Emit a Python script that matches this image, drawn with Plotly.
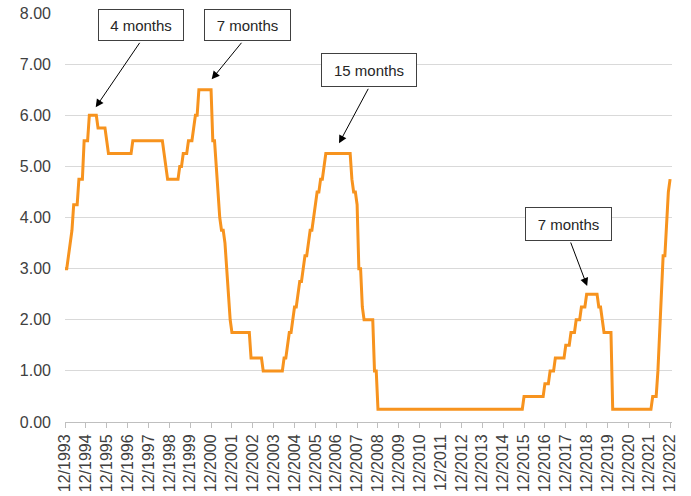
import plotly.graph_objects as go

# Monthly policy rate (upper target), Dec 1993 .. Dec 2022
r1993 = [3.00]
r1994 = [3.00, 3.25, 3.50, 3.75, 4.25, 4.25, 4.25, 4.75, 4.75, 4.75, 5.50, 5.50]
r1995 = [5.50, 6.00, 6.00, 6.00, 6.00, 6.00, 5.75, 5.75, 5.75, 5.75, 5.75, 5.50]
r1996 = [5.25, 5.25, 5.25, 5.25, 5.25, 5.25, 5.25, 5.25, 5.25, 5.25, 5.25, 5.25]
r1997 = [5.25, 5.25, 5.50, 5.50, 5.50, 5.50, 5.50, 5.50, 5.50, 5.50, 5.50, 5.50]
r1998 = [5.50, 5.50, 5.50, 5.50, 5.50, 5.50, 5.50, 5.50, 5.25, 5.00, 4.75, 4.75]
r1999 = [4.75, 4.75, 4.75, 4.75, 4.75, 5.00, 5.00, 5.25, 5.25, 5.25, 5.50, 5.50]
r2000 = [5.50, 5.75, 6.00, 6.00, 6.50, 6.50, 6.50, 6.50, 6.50, 6.50, 6.50, 6.50]
r2001 = [5.50, 5.50, 5.00, 4.50, 4.00, 3.75, 3.75, 3.50, 3.00, 2.50, 2.00, 1.75]
r2002 = [1.75, 1.75, 1.75, 1.75, 1.75, 1.75, 1.75, 1.75, 1.75, 1.75, 1.25, 1.25]
r2003 = [1.25, 1.25, 1.25, 1.25, 1.25, 1.00, 1.00, 1.00, 1.00, 1.00, 1.00, 1.00]
r2004 = [1.00, 1.00, 1.00, 1.00, 1.00, 1.25, 1.25, 1.50, 1.75, 1.75, 2.00, 2.25]
r2005 = [2.25, 2.50, 2.75, 2.75, 3.00, 3.25, 3.25, 3.50, 3.75, 3.75, 4.00, 4.25]
r2006 = [4.50, 4.50, 4.75, 4.75, 5.00, 5.25, 5.25, 5.25, 5.25, 5.25, 5.25, 5.25]
r2007 = [5.25, 5.25, 5.25, 5.25, 5.25, 5.25, 5.25, 5.25, 4.75, 4.50, 4.50, 4.25]
r2008 = [3.00, 3.00, 2.25, 2.00, 2.00, 2.00, 2.00, 2.00, 2.00, 1.00, 1.00, 0.25]
r2009 = [0.25, 0.25, 0.25, 0.25, 0.25, 0.25, 0.25, 0.25, 0.25, 0.25, 0.25, 0.25]
r2010 = [0.25, 0.25, 0.25, 0.25, 0.25, 0.25, 0.25, 0.25, 0.25, 0.25, 0.25, 0.25]
r2011 = [0.25, 0.25, 0.25, 0.25, 0.25, 0.25, 0.25, 0.25, 0.25, 0.25, 0.25, 0.25]
r2012 = [0.25, 0.25, 0.25, 0.25, 0.25, 0.25, 0.25, 0.25, 0.25, 0.25, 0.25, 0.25]
r2013 = [0.25, 0.25, 0.25, 0.25, 0.25, 0.25, 0.25, 0.25, 0.25, 0.25, 0.25, 0.25]
r2014 = [0.25, 0.25, 0.25, 0.25, 0.25, 0.25, 0.25, 0.25, 0.25, 0.25, 0.25, 0.25]
r2015 = [0.25, 0.25, 0.25, 0.25, 0.25, 0.25, 0.25, 0.25, 0.25, 0.25, 0.25, 0.50]
r2016 = [0.50, 0.50, 0.50, 0.50, 0.50, 0.50, 0.50, 0.50, 0.50, 0.50, 0.50, 0.75]
r2017 = [0.75, 0.75, 1.00, 1.00, 1.00, 1.25, 1.25, 1.25, 1.25, 1.25, 1.25, 1.50]
r2018 = [1.50, 1.50, 1.75, 1.75, 1.75, 2.00, 2.00, 2.00, 2.25, 2.25, 2.25, 2.50]
r2019 = [2.50, 2.50, 2.50, 2.50, 2.50, 2.50, 2.25, 2.25, 2.00, 1.75, 1.75, 1.75]
r2020 = [1.75, 1.75, 0.25, 0.25, 0.25, 0.25, 0.25, 0.25, 0.25, 0.25, 0.25, 0.25]
r2021 = [0.25, 0.25, 0.25, 0.25, 0.25, 0.25, 0.25, 0.25, 0.25, 0.25, 0.25, 0.25]
r2022 = [0.25, 0.50, 0.50, 0.50, 1.00, 1.75, 2.50, 3.25, 3.25, 4.00, 4.50, 4.75]

yearly = [r1994, r1995, r1996, r1997, r1998, r1999, r2000, r2001, r2002, r2003,
          r2004, r2005, r2006, r2007, r2008, r2009, r2010, r2011, r2012, r2013,
          r2014, r2015, r2016, r2017, r2018, r2019, r2020, r2021, r2022]

rates = list(r1993)
months = ["12/1993"]
for i, yr in enumerate(yearly):
    year = 1994 + i
    rates += yr
    months += [f"{m}/{year}" for m in range(1, 13)]

tick_labels = ["12/1993", "12/1994", "12/1995", "12/1996", "12/1997", "12/1998",
               "12/1999", "12/2000", "12/2001", "12/2002", "12/2003", "12/2004",
               "12/2005", "12/2006", "12/2007", "12/2008", "12/2009", "12/2010",
               "12/2011", "12/2012", "12/2013", "12/2014", "12/2015", "12/2016",
               "12/2017", "12/2018", "12/2019", "12/2020", "12/2021", "12/2022"]

y_ticks = [0, 1, 2, 3, 4, 5, 6, 7, 8]

box_texts = ["4 months", "7 months", "15 months", "7 months"]

FONT = "Liberation Sans, Arial, sans-serif"
TXT = "#404040"

fig = go.Figure()
fig.add_trace(go.Scatter(
    x=months, y=rates, mode="lines",
    line=dict(color="#F7931E", width=3),
    hoverinfo="x+y", showlegend=False,
))

# box geometry (paper coords centre, width, height in px)
boxes = [
    (0.1247, 0.970, 84, 30),
    (0.3008, 0.970, 85, 30),
    (0.5008, 0.860, 94, 32),
    (0.8300, 0.483, 85, 32),
]
anns = []
for (bx, by, w, h), t in zip(boxes, box_texts):
    anns.append(dict(
        xref="paper", yref="paper", x=bx, y=by, xanchor="center", yanchor="middle",
        text=t, showarrow=False, font=dict(family=FONT, size=15, color="#262626"),
        bgcolor="white", bordercolor="#404040", borderwidth=1, borderpad=0,
        width=w, height=h,
    ))

# arrows: tip in data coords, tail offsets in px
arrows = [
    (17.65, 6.155, 45, -66),
    (84.36, 6.703, 31, -38),
    (157.6, 5.451, 30, -56),
    (300.3, 2.660, -17, -45),
]
for (xt, yt, ax, ay) in arrows:
    anns.append(dict(
        xref="x", yref="y", x=xt, y=yt, ax=ax, ay=ay, axref="pixel", ayref="pixel",
        text="", showarrow=True, arrowhead=2, arrowsize=1.6, arrowwidth=1,
        arrowcolor="#000000", standoff=0, startstandoff=0,
    ))

fig.update_layout(
    width=691, height=496,
    margin=dict(l=65, r=19, t=13, b=74, pad=0, autoexpand=False),
    paper_bgcolor="white", plot_bgcolor="white",
    font=dict(family=FONT, color=TXT, size=16),
    annotations=anns,
    xaxis=dict(
        type="category", range=[0, 349.1], automargin=False,
        tickmode="array", tickvals=tick_labels, ticktext=tick_labels,
        tickangle=-90, tickfont=dict(family=FONT, size=16, color=TXT),
        showgrid=False, showline=True, linecolor="#bfbfbf", linewidth=1,
        ticks="outside", ticklen=5, tickcolor="#bfbfbf", zeroline=False,
    ),
    yaxis=dict(
        range=[0, 8], tickmode="array", tickvals=y_ticks, tickformat=".2f",
        automargin=False,
        tickfont=dict(family=FONT, size=16, color=TXT),
        showgrid=True, gridcolor="#d9d9d9", gridwidth=1,
        zeroline=False, showline=False, ticks="", ticklabelstandoff=13,
    ),
)

fig.write_html(
    "out.html",
    config={"displayModeBar": False},
    post_script="document.body.style.margin='0px';document.body.style.overflow='hidden';",
)
